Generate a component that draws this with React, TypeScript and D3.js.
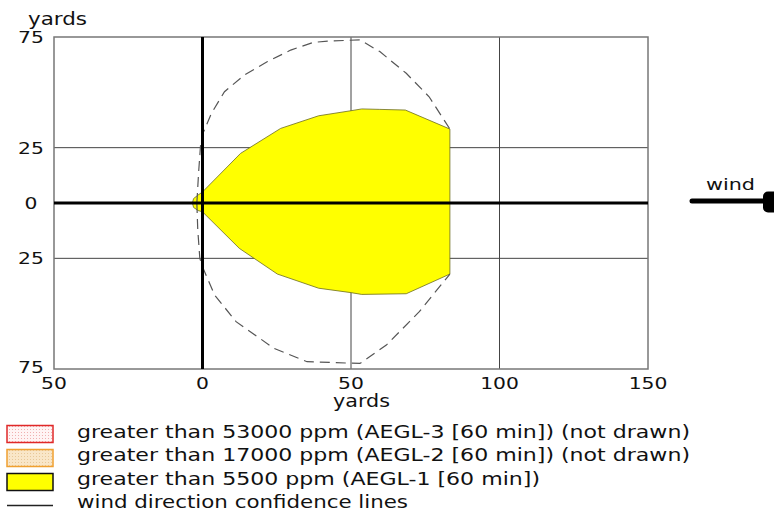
import React, { useEffect, useRef } from 'react';
import * as d3 from 'd3';

// Axis ticks (yards)
const xTicks: number[] = [-50, 0, 50, 100, 150];
const yTicks: number[] = [75, 25, 0, -25, -75];
const xGrid: number[] = [50, 100];
const yGrid: number[] = [25, -25];

// AEGL-1 threat zone outline (downwind x, crosswind y) in yards
const aegl1Zone: [number, number][] = [
  [0, 5], [12.8, 22.4], [26.3, 33.7], [39.1, 39.4], [50, 41.7], [53.6, 42.5],
  [59.7, 42.3], [68.3, 42], [83.3, 33.4], [83.3, -32.1], [68.6, -41], [53.6, -41.3],
  [50, -40.5], [39.1, -38.5], [25.2, -32.1], [12.4, -20.5], [0, -4],
  [-1.5, -3.4], [-3, -2], [-3.4, 0], [-3, 2], [-1.5, 3.6],
];

// Wind direction confidence lines
const confidenceUpper: [number, number][] = [
  [-1.9, 0], [-1.3, 14], [-0.6, 27], [0.3, 32], [3, 40.5], [7.4, 50.3], [14.1, 57.8],
  [21.9, 63.9], [29.7, 69.1], [37.4, 72.6], [43, 73.2], [53, 73.7], [59.7, 68.4],
  [68.6, 58.6], [76.3, 48], [83.3, 33.4],
];
const confidenceLower: [number, number][] = [
  [-1.9, 0], [-1.6, -12], [-0.9, -25], [0.2, -29.5], [4.1, -41.6], [11.3, -53.6],
  [24.1, -65.7], [35.2, -71.7], [53, -72.5], [61.9, -64.2], [73, -49.1], [83.3, -32.1],
];

const legendLabels: string[] = [
  'greater than 53000 ppm (AEGL-3 [60 min]) (not drawn)',
  'greater than 17000 ppm (AEGL-2 [60 min]) (not drawn)',
  'greater than 5500 ppm (AEGL-1 [60 min])',
  'wind direction confidence lines',
];
const legendWidths: number[] = [613, 613, 463, 331];

const FONT = "'DejaVu Sans', Verdana, sans-serif";

export default function App() {
  const ref = useRef<SVGSVGElement | null>(null);

  useEffect(() => {
    const svg = d3.select(ref.current);
    svg.selectAll('*').remove();

    const x = d3.scaleLinear().domain([-50, 150]).range([54, 648]);
    const y = d3.scaleLinear().domain([-75, 75]).range([369, 37]);

    const defs = svg.append('defs');
    const p1 = defs.append('pattern').attr('id', 'dotRed').attr('width', 3).attr('height', 3).attr('patternUnits', 'userSpaceOnUse');
    p1.append('rect').attr('width', 3).attr('height', 3).attr('fill', '#fff4f4');
    p1.append('rect').attr('width', 1).attr('height', 1).attr('fill', '#f0b0b0');
    const p2 = defs.append('pattern').attr('id', 'dotOrange').attr('width', 3).attr('height', 3).attr('patternUnits', 'userSpaceOnUse');
    p2.append('rect').attr('width', 3).attr('height', 3).attr('fill', '#f9e6c8');
    p2.append('rect').attr('width', 1).attr('height', 1).attr('fill', '#e8c898');

    const g = svg.append('g');

    // grid lines
    g.selectAll('.vg').data(xGrid).join('line')
      .attr('x1', d => x(d)).attr('x2', d => x(d)).attr('y1', y(75)).attr('y2', y(-75))
      .attr('stroke', '#444').attr('stroke-width', 1);
    g.selectAll('.hg').data(yGrid).join('line')
      .attr('x1', x(-50)).attr('x2', x(150)).attr('y1', d => y(d)).attr('y2', d => y(d))
      .attr('stroke', '#444').attr('stroke-width', 1);

    // AEGL-1 zone
    const line = d3.line<[number, number]>().x(d => x(d[0])).y(d => y(d[1]));
    g.append('path').attr('d', line(aegl1Zone) + 'Z')
      .attr('fill', '#ffff00').attr('stroke', '#6b6b20').attr('stroke-width', 0.8)
      .attr('stroke-linejoin', 'round');

    // confidence lines
    [confidenceUpper, confidenceLower].forEach(pts => {
      g.append('path').attr('d', line(pts)).attr('fill', 'none')
        .attr('stroke', '#555').attr('stroke-width', 1.2).attr('stroke-dasharray', '10,6');
    });

    // border
    g.append('rect').attr('x', x(-50)).attr('y', y(75))
      .attr('width', x(150) - x(-50)).attr('height', y(-75) - y(75))
      .attr('fill', 'none').attr('stroke', '#777').attr('stroke-width', 1.5);

    // zero axes
    g.append('line').attr('x1', x(-50)).attr('x2', x(150)).attr('y1', y(0)).attr('y2', y(0))
      .attr('stroke', '#000').attr('stroke-width', 3);
    g.append('line').attr('x1', x(0)).attr('x2', x(0)).attr('y1', y(75)).attr('y2', y(-75))
      .attr('stroke', '#000').attr('stroke-width', 3);

    const txt = (s: string, tx: number, ty: number, anchor: string, size: number, sx: number) =>
      svg.append('text').text(s).attr('transform', `translate(${tx},${ty}) scale(${sx},1)`)
        .attr('text-anchor', anchor).attr('font-family', FONT).attr('font-size', size).attr('fill', '#111');
    const fitText = (s: string, tx: number, ty: number, size: number, w: number) =>
      svg.append('text').text(s).attr('x', tx).attr('y', ty)
        .attr('font-family', FONT).attr('font-size', size).attr('fill', '#111')
        .attr('textLength', w).attr('lengthAdjust', 'spacingAndGlyphs');

    // y tick labels (absolute values)
    yTicks.forEach(t => {
      txt(String(Math.abs(t)), 31, y(t) + (t === -75 ? 4 : 6), 'middle', 16, 1.27);
    });
    // x tick labels
    xTicks.forEach(t => {
      txt(String(Math.abs(t)), x(t), 389, 'middle', 16, 1.27);
    });
    fitText('yards', 28, 25, 18, 59);
    fitText('yards', 333, 407, 18, 57);

    // wind arrow
    fitText('wind', 706, 190, 15.5, 49);
    svg.append('line').attr('x1', 692).attr('x2', 766).attr('y1', 201).attr('y2', 201)
      .attr('stroke', '#000').attr('stroke-width', 5).attr('stroke-linecap', 'round');
    svg.append('rect').attr('x', 763).attr('y', 191.5).attr('width', 20).attr('height', 21)
      .attr('rx', 5).attr('fill', '#000');

    // legend
    svg.append('rect').attr('x', 7).attr('y', 425.5).attr('width', 46).attr('height', 17)
      .attr('fill', 'url(#dotRed)').attr('stroke', '#e02828').attr('stroke-width', 1.5);
    svg.append('rect').attr('x', 7).attr('y', 449.5).attr('width', 46).attr('height', 17)
      .attr('fill', 'url(#dotOrange)').attr('stroke', '#f0a030').attr('stroke-width', 1.5);
    svg.append('rect').attr('x', 7).attr('y', 473.5).attr('width', 46).attr('height', 17)
      .attr('fill', '#ffff00').attr('stroke', '#111').attr('stroke-width', 1.5);
    svg.append('line').attr('x1', 7).attr('x2', 53).attr('y1', 505.5).attr('y2', 505.5)
      .attr('stroke', '#222').attr('stroke-width', 1.5);

    legendLabels.forEach((s, i) => {
      fitText(s, 77, 437.5 + i * 23.5, 18, legendWidths[i]);
    });
  }, []);

  return (
    <svg ref={ref} width={774} height={509}
      style={{ position: 'absolute', left: 0, top: 0, background: '#fff' }} />
  );
}
